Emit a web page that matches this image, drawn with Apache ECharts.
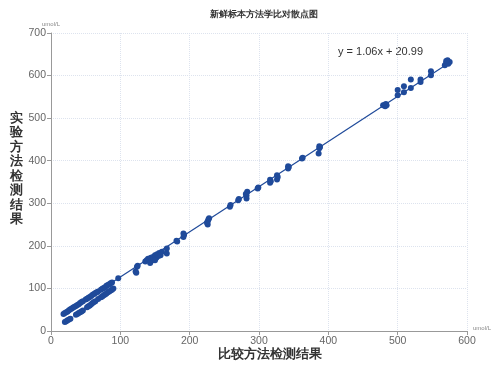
<!DOCTYPE html>
<html><head><meta charset="utf-8">
<script src="https://cdn.jsdelivr.net/npm/echarts@6/dist/echarts.min.js"></script>
<style>html,body{margin:0;padding:0;background:#fff}#c{width:502px;height:366px}</style>
</head><body><div id="c"></div>
<script>
const titleText = '新鲜标本方法学比对散点图';
const xTitle = '比较方法检测结果';
const yTitle = '实验方法检测结果';
const unit = 'umol/L';
const equation = 'y = 1.06x + 20.99';
const xTicks = [0, 100, 200, 300, 400, 500, 600];
const yTicks = [0, 100, 200, 300, 400, 500, 600, 700];
// comparison method (x) values
const xValues = [
 18,20,22,24,26,28,30,32,34,36,38,40,42,44,46,50,52,54,56,58,60,62,64,66,68,72,74,76,78,80,82,84,86,88,
 20,22,24,26,28,36,38,40,42,44,46,52,54,56,58,60,62,64,68,72,74,76,78,80,82,84,86,88,90,
 97,123,124,122,125,
 136,138,140,142,144,145,147,148,150,152,153,155,156,158,160,143,150,
 167,167,181,182,191,191,192,
 226,226,227,225,228,258,259,270,271,282,282,283,281,298,299,
 316,316,317,326,327,326,342,342,343,362,363,387,387,386,388,
 479,481,484,482,483,500,500,509,509,519,519,533,533,548,548,568,570,572,575,573,570
];
// experimental method (y) values
const yValues = [
 40,42,44,46,49,51,53,55,57,59,61,63,66,68,70,74,76,78,80,82,85,87,89,91,93,97,99,101,103,106,108,110,112,114,
 21,23,25,27,29,38,40,42,44,46,48,56,58,60,63,66,68,70,75,79,81,84,86,88,91,93,95,97,100,
 124,137,151,140,153,
 163,166,170,168,172,165,174,170,178,172,180,176,183,178,186,160,166,
 182,194,212,210,221,229,226,
 250,257,262,254,265,292,296,307,310,311,318,327,322,335,337,
 348,355,352,356,362,366,382,387,385,405,407,429,434,417,432,
 530,531,530,528,533,554,566,561,575,591,571,585,591,601,610,624,630,636,632,628,634
];
// regression line end points
const fitX = [18, 575];
const fitY = [40.07, 630.49];

const pts = xValues.map((x, i) => [x, yValues[i]]);
const fit = fitX.map((x, i) => [x, fitY[i]]);
const chart = echarts.init(document.getElementById('c'));
const blue = '#1f4a9a';
chart.setOption({
  animation: false,
  title: { text: titleText, left: 259, top: 5, textAlign: 'center',
    textStyle: { fontSize: 9, fontWeight: 'bold', color: '#333' } },
  grid: { left: 51, right: 35, top: 33, bottom: 35 },
  xAxis: { type: 'value', min: xTicks[0], max: xTicks[xTicks.length-1], interval: 100,
    name: unit, nameLocation: 'end', nameGap: 6,
    nameTextStyle: { fontSize: 6, color: '#888', verticalAlign: 'bottom', padding: [0,0,0,0] },
    axisLine: { show: true, lineStyle: { color: '#999' } },
    axisTick: { show: true, length: 4, lineStyle: { color: '#999' } },
    axisLabel: { fontSize: 10.5, color: '#666', margin: 5 },
    splitLine: { show: true, lineStyle: { color: '#dde3ee', type: 'dotted' } } },
  yAxis: { type: 'value', min: yTicks[0], max: yTicks[yTicks.length-1], interval: 100,
    name: unit, nameLocation: 'end', nameGap: 6,
    nameTextStyle: { fontSize: 6, color: '#888', align: 'center', padding: [0,0,0,0] },
    axisLine: { show: true, lineStyle: { color: '#999' } },
    axisTick: { show: true, length: 4, lineStyle: { color: '#999' } },
    axisLabel: { fontSize: 10.5, color: '#666', margin: 5 },
    splitLine: { show: true, lineStyle: { color: '#dde3ee', type: 'dotted' } } },
  graphic: [
    { type: 'text', style: { x: 270, y: 354, text: xTitle, fontSize: 13, fontWeight: 'bold', fill: '#333', textAlign: 'center', textVerticalAlign: 'middle' } },
    { type: 'text', style: { x: 16, y: 169, text: yTitle.split('').join('\n'), fontSize: 13, fontWeight: 'bold', fill: '#333', lineHeight: 14.5, textAlign: 'center', textVerticalAlign: 'middle' } },
    { type: 'text', style: { x: 338, y: 52, text: equation, fontSize: 11, fill: '#333', textAlign: 'left', textVerticalAlign: 'middle' } }
  ],
  series: [
    { type: 'line', data: fit, showSymbol: false, symbol: 'none', lineStyle: { color: blue, width: 1.2 }, z: 1 },
    { type: 'scatter', data: pts, symbolSize: 6, itemStyle: { color: blue, opacity: 1 }, z: 2 }
  ]
});
</script></body></html>
